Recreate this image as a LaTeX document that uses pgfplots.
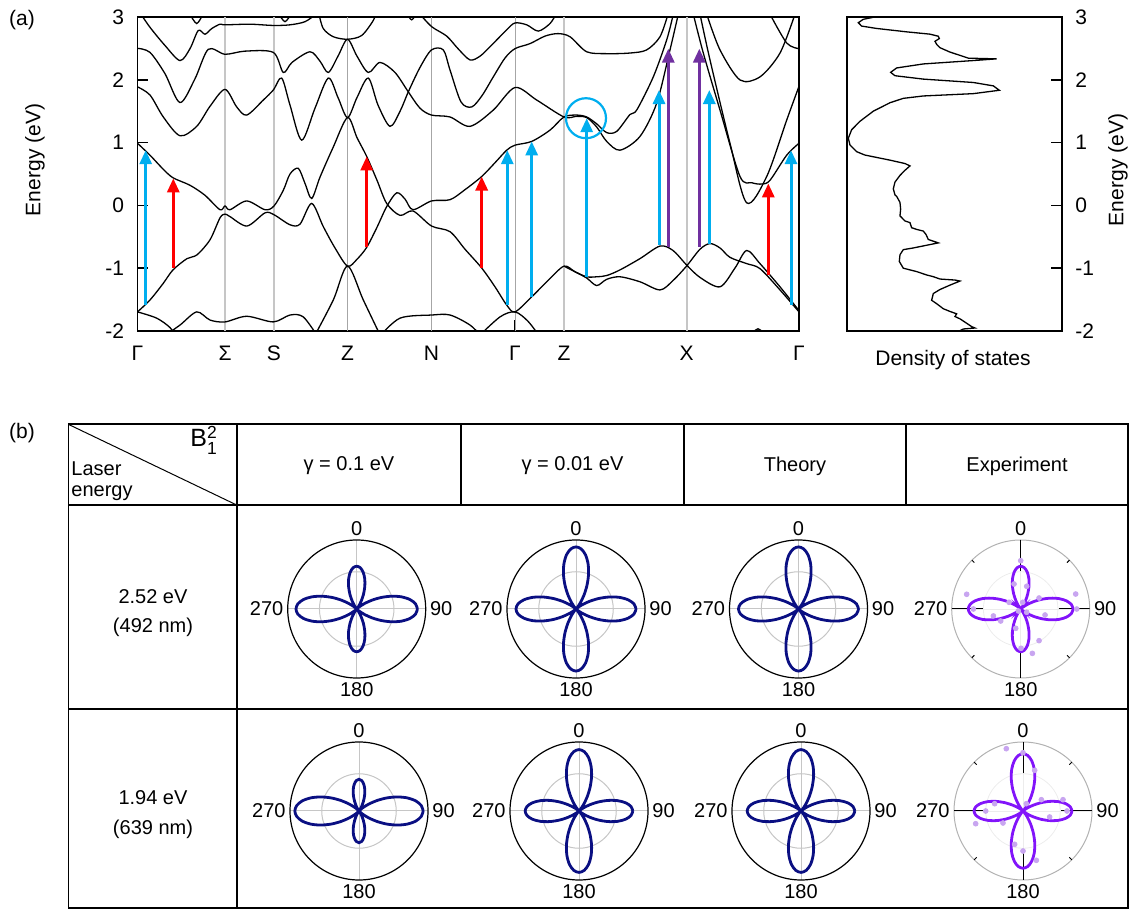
\documentclass[border=0pt]{standalone}
\usepackage{pgfplots}
\pgfplotsset{compat=1.18}
\usepackage{pgfplotstable}
\usepgfplotslibrary{polar}
\usetikzlibrary{arrows.meta}
\usepackage{amsmath}
\usepackage{fontspec}
\setmainfont{Liberation Sans}
\definecolor{navyb}{RGB}{10,15,130}
\definecolor{expv}{RGB}{130,20,250}
\definecolor{expdot}{RGB}{200,165,240}
\definecolor{arrb}{RGB}{0,174,239}
\definecolor{arrr}{RGB}{255,0,0}
\definecolor{arrp}{RGB}{112,48,160}

\pgfplotstableread[row sep=\\]{phi r\\0 0.880\\5 0.856\\10 0.785\\15 0.677\\20 0.542\\25 0.397\\30 0.257\\35 0.137\\40 0.051\\45 0.006\\50 0.006\\55 0.048\\60 0.127\\65 0.230\\70 0.343\\75 0.451\\80 0.541\\85 0.600\\90 0.620\\95 0.600\\100 0.541\\105 0.451\\110 0.343\\115 0.230\\120 0.127\\125 0.048\\130 0.006\\135 0.006\\140 0.051\\145 0.137\\150 0.257\\155 0.397\\160 0.542\\165 0.677\\170 0.785\\175 0.856\\180 0.880\\185 0.856\\190 0.785\\195 0.677\\200 0.542\\205 0.397\\210 0.257\\215 0.137\\220 0.051\\225 0.006\\230 0.006\\235 0.048\\240 0.127\\245 0.230\\250 0.343\\255 0.451\\260 0.541\\265 0.600\\270 0.620\\275 0.600\\280 0.541\\285 0.451\\290 0.343\\295 0.230\\300 0.127\\305 0.048\\310 0.006\\315 0.006\\320 0.051\\325 0.137\\330 0.257\\335 0.397\\340 0.542\\345 0.677\\350 0.785\\355 0.856\\360 0.880\\}\shapeA

\pgfplotstableread[row sep=\\]{phi r\\0 0.870\\5 0.844\\10 0.767\\15 0.651\\20 0.508\\25 0.356\\30 0.214\\35 0.098\\40 0.024\\45 0.000\\50 0.029\\55 0.109\\60 0.229\\65 0.375\\70 0.531\\75 0.677\\80 0.796\\85 0.873\\90 0.900\\95 0.873\\100 0.796\\105 0.677\\110 0.531\\115 0.375\\120 0.229\\125 0.109\\130 0.029\\135 0.000\\140 0.024\\145 0.098\\150 0.214\\155 0.356\\160 0.508\\165 0.651\\170 0.767\\175 0.844\\180 0.870\\185 0.844\\190 0.767\\195 0.651\\200 0.508\\205 0.356\\210 0.214\\215 0.098\\220 0.024\\225 0.000\\230 0.029\\235 0.109\\240 0.229\\245 0.375\\250 0.531\\255 0.677\\260 0.796\\265 0.873\\270 0.900\\275 0.873\\280 0.796\\285 0.677\\290 0.531\\295 0.375\\300 0.229\\305 0.109\\310 0.029\\315 0.000\\320 0.024\\325 0.098\\330 0.214\\335 0.356\\340 0.508\\345 0.651\\350 0.767\\355 0.844\\360 0.870\\}\shapeB

\pgfplotstableread[row sep=\\]{phi r\\0 0.930\\5 0.906\\10 0.837\\15 0.730\\20 0.596\\25 0.450\\30 0.307\\35 0.180\\40 0.082\\45 0.021\\50 0.000\\55 0.019\\60 0.072\\65 0.148\\70 0.236\\75 0.323\\80 0.395\\85 0.443\\90 0.460\\95 0.443\\100 0.395\\105 0.323\\110 0.236\\115 0.148\\120 0.072\\125 0.019\\130 0.000\\135 0.021\\140 0.082\\145 0.180\\150 0.307\\155 0.450\\160 0.596\\165 0.730\\170 0.837\\175 0.906\\180 0.930\\185 0.906\\190 0.837\\195 0.730\\200 0.596\\205 0.450\\210 0.307\\215 0.180\\220 0.082\\225 0.021\\230 0.000\\235 0.019\\240 0.072\\245 0.148\\250 0.236\\255 0.323\\260 0.395\\265 0.443\\270 0.460\\275 0.443\\280 0.395\\285 0.323\\290 0.236\\295 0.148\\300 0.072\\305 0.019\\310 0.000\\315 0.021\\320 0.082\\325 0.180\\330 0.307\\335 0.450\\340 0.596\\345 0.730\\350 0.837\\355 0.906\\360 0.930\\}\shapeC

\pgfplotstableread[row sep=\\]{phi r\\0 0.780\\5 0.756\\10 0.686\\15 0.579\\20 0.448\\25 0.310\\30 0.182\\35 0.080\\40 0.017\\45 0.001\\50 0.036\\55 0.117\\60 0.237\\65 0.381\\70 0.533\\75 0.674\\80 0.789\\85 0.864\\90 0.890\\95 0.864\\100 0.789\\105 0.674\\110 0.533\\115 0.381\\120 0.237\\125 0.117\\130 0.036\\135 0.001\\140 0.017\\145 0.080\\150 0.182\\155 0.310\\160 0.448\\165 0.579\\170 0.686\\175 0.756\\180 0.780\\185 0.756\\190 0.686\\195 0.579\\200 0.448\\205 0.310\\210 0.182\\215 0.080\\220 0.017\\225 0.001\\230 0.036\\235 0.117\\240 0.237\\245 0.381\\250 0.533\\255 0.674\\260 0.789\\265 0.864\\270 0.890\\275 0.864\\280 0.789\\285 0.674\\290 0.533\\295 0.381\\300 0.237\\305 0.117\\310 0.036\\315 0.001\\320 0.017\\325 0.080\\330 0.182\\335 0.310\\340 0.448\\345 0.579\\350 0.686\\355 0.756\\360 0.780\\}\shapeD

\pgfplotstableread[row sep=\\]{phi r\\0 0.760\\5 0.738\\10 0.675\\15 0.579\\20 0.459\\25 0.331\\30 0.209\\35 0.106\\40 0.035\\45 0.002\\50 0.010\\55 0.058\\60 0.139\\65 0.241\\70 0.352\\75 0.457\\80 0.544\\85 0.600\\90 0.620\\95 0.600\\100 0.544\\105 0.457\\110 0.352\\115 0.241\\120 0.139\\125 0.058\\130 0.010\\135 0.002\\140 0.035\\145 0.106\\150 0.209\\155 0.331\\160 0.459\\165 0.579\\170 0.675\\175 0.738\\180 0.760\\185 0.738\\190 0.675\\195 0.579\\200 0.459\\205 0.331\\210 0.209\\215 0.106\\220 0.035\\225 0.002\\230 0.010\\235 0.058\\240 0.139\\245 0.241\\250 0.352\\255 0.457\\260 0.544\\265 0.600\\270 0.620\\275 0.600\\280 0.544\\285 0.457\\290 0.352\\295 0.241\\300 0.139\\305 0.058\\310 0.010\\315 0.002\\320 0.035\\325 0.106\\330 0.209\\335 0.331\\340 0.459\\345 0.579\\350 0.675\\355 0.738\\360 0.760\\}\shapeE

\pgfplotstableread[row sep=\\]{phi r\\0 0.710\\5 0.688\\10 0.624\\15 0.526\\20 0.406\\25 0.280\\30 0.163\\35 0.071\\40 0.014\\45 0.001\\50 0.035\\55 0.112\\60 0.223\\65 0.357\\70 0.498\\75 0.630\\80 0.736\\85 0.806\\90 0.830\\95 0.806\\100 0.736\\105 0.630\\110 0.498\\115 0.357\\120 0.223\\125 0.112\\130 0.035\\135 0.001\\140 0.014\\145 0.071\\150 0.163\\155 0.280\\160 0.406\\165 0.526\\170 0.624\\175 0.688\\180 0.710\\185 0.688\\190 0.624\\195 0.526\\200 0.406\\205 0.280\\210 0.163\\215 0.071\\220 0.014\\225 0.001\\230 0.035\\235 0.112\\240 0.223\\245 0.357\\250 0.498\\255 0.630\\260 0.736\\265 0.806\\270 0.830\\275 0.806\\280 0.736\\285 0.630\\290 0.498\\295 0.357\\300 0.223\\305 0.112\\310 0.035\\315 0.001\\320 0.014\\325 0.071\\330 0.163\\335 0.280\\340 0.406\\345 0.526\\350 0.624\\355 0.688\\360 0.710\\}\shapeF

\pgfplotstableread[row sep=\\]{d E\\100 3.000\\70 2.968\\55 2.914\\65 2.860\\110 2.822\\200 2.768\\270 2.731\\295 2.698\\298 2.661\\285 2.617\\290 2.569\\300 2.515\\330 2.445\\370 2.375\\385 2.348\\470 2.337\\400 2.310\\250 2.256\\170 2.192\\152 2.122\\165 2.068\\250 2.014\\400 1.960\\460 1.906\\478 1.836\\400 1.782\\250 1.745\\190 1.707\\150 1.637\\100 1.502\\60 1.341\\35 1.206\\25 1.071\\30 0.963\\50 0.856\\75 0.802\\150 0.721\\195 0.667\\210 0.629\\195 0.559\\180 0.478\\165 0.371\\160 0.263\\165 0.166\\170 0.144\\180 0.047\\182 -0.060\\180 -0.168\\195 -0.249\\210 -0.276\\215 -0.357\\230 -0.384\\250 -0.411\\258 -0.464\\265 -0.545\\295 -0.599\\270 -0.626\\220 -0.680\\190 -0.707\\180 -0.788\\178 -0.896\\190 -1.003\\230 -1.057\\260 -1.111\\280 -1.138\\300 -1.176\\345 -1.192\\360 -1.208\\330 -1.273\\300 -1.343\\280 -1.407\\275 -1.515\\290 -1.569\\310 -1.650\\330 -1.693\\350 -1.731\\345 -1.774\\360 -1.811\\380 -1.881\\395 -1.935\\405 -1.957\\370 -1.973\\360 -2.000\\}\dos

\pgfplotsset{
  mpolar/.style={
    scale only axis, width=69pt, height=69pt, anchor=center,
    ymin=0, ymax=1, xtick={0,90,180,270}, xticklabels={90,0,270,180},
    ytick={0.54}, yticklabels={}, xmajorgrids, ymajorgrids,
    major grid style={gray!45, line width=0.5pt},
    axis line style={black, line width=0.6pt},
    y axis line style={draw=none},
    xtick style={draw=none}, ytick style={draw=none},
    xticklabel style={font=\fontsize{10}{12}\selectfont, inner sep=2pt},
  },
  epolar/.style={
    scale only axis, width=69pt, height=69pt, anchor=center,
    ymin=0, ymax=1, xtick={0,90,180,270}, xticklabels={90,0,270,180},
    ytick={0.54}, yticklabels={}, ymajorgrids,
    major grid style={gray!15, line width=0.4pt},
    axis line style={gray!60, line width=0.5pt},
    y axis line style={draw=none},
    xtick style={draw=none}, ytick style={draw=none},
    xticklabel style={font=\fontsize{10}{12}\selectfont, inner sep=2pt},
  },
  etick/.style={black, line width=0.5pt},
  bandline/.style={black, line width=0.65pt, smooth},
  arrow/.style={line width=1.5pt, -{Triangle[width=6pt,length=7pt]}},
}
\newcommand{\expticks}{%
  \addplot[etick] coordinates {(0,0.55) (0,1)};
  \addplot[etick] coordinates {(90,0.55) (90,1)};
  \addplot[etick] coordinates {(180,0.55) (180,1)};
  \addplot[etick] coordinates {(270,0.55) (270,1)};
  \addplot[etick] coordinates {(45,0.95) (45,1)};
  \addplot[etick] coordinates {(135,0.95) (135,1)};
  \addplot[etick] coordinates {(225,0.95) (225,1)};
  \addplot[etick] coordinates {(315,0.95) (315,1)};
}

\begin{document}
\begin{tikzpicture}
\path[use as bounding box] (0,0) rectangle (568pt,455pt);
\fontsize{10.5}{12.6}\selectfont

% ---------- panel (a): band structure ----------
\begin{axis}[
  at={(68.75pt,289.65pt)}, anchor=south west,
  scale only axis, width=330.75pt, height=156.7pt,
  xmin=137.5, xmax=799, ymin=-2, ymax=3,
  xtick={137.5,225,274,347.5,431.5,515,564,686.5,799},
  xticklabels={Γ,Σ,S,Z,N,Γ,Z,X,Γ},
  ytick={-2,-1,0,1,2,3},
  tick align=inside, xtick pos=bottom, ytick pos=left,
  major tick length=5.5pt,
  tick style={black, line width=0.8pt},
  axis line style={line width=0.9pt},
  /pgf/number format/assume math mode=true,
  ticklabel style={font=\fontsize{10.5}{12.6}\selectfont},
  yticklabel style={xshift=-3pt},
  xticklabel style={yshift=-4pt},
  clip=true,
]
\addplot[gray!45, line width=1pt] coordinates {(225,-2) (225,3)};
\addplot[gray!45, line width=1pt] coordinates {(274,-2) (274,3)};
\addplot[gray!70, line width=0.5pt] coordinates {(347.5,-2) (347.5,3)};
\addplot[gray!70, line width=0.5pt] coordinates {(431.5,-2) (431.5,3)};
\addplot[gray!70, line width=0.5pt] coordinates {(515,-2) (515,3)};
\addplot[gray!45, line width=1pt] coordinates {(564,-2) (564,3)};
\addplot[gray!45, line width=1pt] coordinates {(686.5,-2) (686.5,3)};

% valence / conduction near gap
\addplot[bandline] coordinates {(137.5,-1.70)(150,-1.51)(163,-1.25)(173,-1.03)(187,-0.85)(197,-0.79)(210,-0.55)(220,-0.20)(225,-0.14)(230,-0.18)(247,-0.33)(265,-0.12)(274,-0.15)(290,-0.31)(300,-0.30)(311.7,0.03)(323.3,-0.34)(335,-0.68)(347.5,-0.97)(357,-0.86)(366.7,-0.67)(377,-0.35)(386.7,-0.02)(396.7,0.20)(405,0.10)(413,-0.07)(431.5,0.07)(450,0.09)(465,0.25)(481.7,0.46)(495,0.68)(506.7,0.88)(515,0.96)(531.7,1.02)(550,1.20)(564,1.41)(576.7,1.44)(586.7,1.41)(596.7,1.30)(606.7,1.16)(616.7,1.18)(630,1.45)(636.7,1.52)(653.3,2.05)(666.7,2.64)(673.3,3.05)};
\addplot[bandline] coordinates {(137.5,0.99)(150,0.80)(163,0.58)(173,0.44)(190,0.32)(205,0.16)(220,-0.07)(225,-0.01)(230,-0.07)(246.7,0.07)(265,-0.07)(274,-0.01)(283.3,0.24)(290,0.50)(298.3,0.59)(305,0.35)(311.7,0.11)(320,0.45)(333,0.92)(347.5,1.40)(357,1.08)(366.7,0.78)(377,0.40)(386.7,0.03)(400,-0.16)(413,-0.09)(431.5,-0.33)(450,-0.42)(465,-0.70)(481.7,-1.00)(495,-1.30)(506.7,-1.59)(515,-1.70)(531.7,-1.46)(548,-1.2)(564,-0.97)(575,-1.06)(586.7,-1.14)(596.7,-1.14)(606.7,-1.12)(620,-1.03)(640,-0.85)(660,-0.65)(673,-0.72)(686.5,-0.95)(700,-1.15)(720,-1.30)(735,-1.0)(746.7,-0.72)(760,-0.93)(780,-1.30)(799,-1.68)};
\addplot[bandline] coordinates {(564,-0.97)(575,-1.06)(586.7,-1.16)(596.7,-1.28)(606.7,-1.18)(620,-1.14)(640,-1.22)(660,-1.35)(673,-1.2)(686.5,-0.97)(700,-0.70)(710,-0.61)(720,-0.68)(730,-0.83)(746.7,-0.93)(760,-1.01)(780,-1.35)(799,-1.70)};
% lower lines
\addplot[bandline] coordinates {(314,-2.1)(333.3,-1.51)(347.5,-0.97)(363.3,-1.51)(381,-2.1)};
\addplot[bandline] coordinates {(137.5,-1.70)(156.7,-1.80)(170,-1.95)(176,-2.1)};
\addplot[bandline] coordinates {(163,-2.1)(180,-1.91)(196.7,-1.70)(210,-1.83)(225,-1.86)(246.7,-1.77)(273.3,-1.86)(290,-1.75)(303.3,-1.78)(318,-2.1)};
\addplot[bandline] coordinates {(379,-2.1)(400,-1.80)(431.7,-1.75)(450,-1.75)(470,-1.91)(482,-2.1)};
\addplot[bandline] coordinates {(478,-2.1)(500,-1.78)(515,-1.70)(528,-1.85)(540,-2.1)};
\addplot[bandline] coordinates {(749,-2.1)(758,-1.97)(767,-2.1)};
% upper lines
\addplot[bandline] coordinates {(137.5,1.89)(150,1.76)(163.3,1.41)(180,1.11)(196.7,1.26)(210,1.58)(225,1.85)(236.7,1.57)(246.7,1.44)(263.3,1.68)(273.3,1.84)(281.7,2.03)(290,1.6)(301.7,1.04)(315,1.55)(328.3,2.03)(338,1.72)(347.5,1.40)(357,1.72)(368.3,2.03)(378,1.6)(390,1.26)(400,1.5)(408.3,1.81)(420,2.2)(431.5,2.48)(443.3,2.48)(450,2.16)(461,1.65)(471.7,1.57)(482,1.75)(493.3,2.05)(505,2.35)(515,2.50)(530,2.58)(545,2.70)(558,2.74)(570,2.69)(586.7,2.45)(606.7,2.42)(630,2.43)(646.7,2.48)(660,2.69)(668,3.05)};
\addplot[bandline] coordinates {(137.5,2.505)(150,2.44)(165,2.1)(180,1.64)(195,2.02)(208.3,2.49)(225,2.41)(245,2.46)(273.3,2.44)(283.3,2.12)(292,2.28)(310,2.45)(320,2.30)(328.3,2.12)(338,2.38)(347.5,2.65)(357,2.38)(368.3,2.12)(380,2.28)(395,2.12)(408.3,1.81)(420,1.55)(431.5,1.44)(450,1.41)(470,1.26)(493.3,1.52)(515,1.88)(536.7,1.68)(564,1.41)(576.7,1.42)(586.7,1.40)(596.7,1.25)(606.7,1.02)(620,0.88)(640,1.10)(656.7,1.63)(670,2.48)(678.3,3.05)};
\addplot[bandline] coordinates {(141,3.05)(150,2.84)(165,2.55)(180,2.31)(190,2.50)(198.3,2.79)(205,2.73)(211.7,2.82)(220,2.89)(225,2.88)(250,2.89)(273.3,2.87)(290,2.88)(305,2.93)(316,3.05)};
\addplot[bandline] coordinates {(190,3.05)(196.7,2.90)(203,3.05)};
\addplot[bandline] coordinates {(279,3.05)(285,2.93)(291,3.05)};
\addplot[bandline] coordinates {(319,3.05)(323.3,2.82)(333.3,2.69)(347.5,2.65)(361.7,2.71)(373.3,2.95)(375,3.05)};
\addplot[bandline] coordinates {(407,3.05)(411.7,2.96)(416,3.05)};
\addplot[bandline] coordinates {(420,3.05)(431.7,2.85)(446.7,2.70)(458,2.50)(470,2.32)(480,2.38)(490,2.53)(506.7,2.80)(515,2.91)(526.7,2.88)(538.3,2.78)(550,2.90)(556,3.05)};
\addplot[bandline] coordinates {(693.3,3.05)(703.3,2.43)(720,1.52)(740,0.46)(752,0.36)(762,0.34)(770,0.40)(786.7,0.80)(799,0.99)};
\addplot[bandline] coordinates {(700,3.05)(710,2.32)(730,0.99)(746.7,0.04)(766.7,0.46)(786.7,1.36)(799,1.9)};
\addplot[bandline] coordinates {(706.7,3.05)(720,2.48)(740,2.0)(760,2.05)(780,2.43)(795,3.05)};
\addplot[bandline] coordinates {(770,3.05)(786.7,2.59)(799,2.5)};

% arrows
\addplot[arrow, arrb] coordinates {(145.7,-1.59) (145.7,0.88)};
\addplot[arrow, arrr] coordinates {(173.3,-1.0) (173.3,0.43)};
\addplot[arrow, arrr] coordinates {(366.7,-0.67) (366.7,0.78)};
\addplot[arrow, arrr] coordinates {(481.7,-1.0) (481.7,0.46)};
\addplot[arrow, arrb] coordinates {(507.3,-1.59) (507.3,0.88)};
\addplot[arrow, arrb] coordinates {(531.7,-1.46) (531.7,1.02)};
\addplot[arrow, arrb] coordinates {(586.7,-1.14) (586.7,1.39)};
\addplot[arrow, arrb] coordinates {(659,-0.63) (659,1.84)};
\addplot[arrow, arrp] coordinates {(668.3,-0.66) (668.3,2.50)};
\addplot[arrow, arrp] coordinates {(699.3,-0.66) (699.3,2.50)};
\addplot[arrow, arrb] coordinates {(709.3,-0.61) (709.3,1.84)};
\addplot[arrow, arrr] coordinates {(768.3,-1.11) (768.3,0.35)};
\addplot[arrow, arrb] coordinates {(791,-1.59) (791,0.88)};
\addplot[arrb, only marks, mark=o, mark size=10pt, mark options={line width=1.1pt}] coordinates {(586,1.39)};
\end{axis}

% ---------- DOS ----------
\begin{axis}[
  at={(423.65pt,289.65pt)}, anchor=south west,
  scale only axis, width=107.35pt, height=156.7pt,
  xmin=22, xmax=666, ymin=-2, ymax=3,
  xtick=\empty, ytick={-2,-1,0,1,2,3},
  tick align=inside, ytick pos=right, yticklabel pos=right,
  major tick length=5.5pt,
  tick style={black, line width=0.8pt},
  axis line style={line width=0.9pt},
  /pgf/number format/assume math mode=true,
  ticklabel style={font=\fontsize{10.5}{12.6}\selectfont},
  yticklabel style={xshift=3pt},
]
\addplot[black, line width=0.65pt] table[x=d, y=E] {\dos};
\end{axis}

\node[rotate=90] at (17.5pt,375pt) {Energy (eV)};
\node[rotate=90] at (559pt,370pt) {Energy (eV)};
\node at (476.5pt,275pt) {Density of states};
\node at (11pt,445pt) {(a)};
\node at (11pt,238.5pt) {(b)};

% ---------- panel (b): table ----------
\draw[line width=0.8pt] (34.15pt,1pt) rectangle (564pt,242.85pt);
\draw[line width=0.8pt] (118.35pt,1pt) -- (118.35pt,242.85pt);
\draw[line width=0.8pt] (230.5pt,202.5pt) -- (230.5pt,242.85pt);
\draw[line width=0.8pt] (342pt,202.5pt) -- (342pt,242.85pt);
\draw[line width=0.8pt] (453pt,202.5pt) -- (453pt,242.85pt);
\draw[line width=0.8pt] (34.15pt,202.5pt) -- (564pt,202.5pt);
\draw[line width=0.8pt] (34.15pt,100.5pt) -- (564pt,100.5pt);
\draw[line width=0.5pt] (34.15pt,242.85pt) -- (118.35pt,202.5pt);

\begingroup\fontsize{10}{12}\selectfont
\node[anchor=base west, inner sep=0pt] at (35.5pt,217.15pt) {Laser};
\node[anchor=base west, inner sep=0pt] at (35.5pt,206.65pt) {energy};
\node[anchor=base west, inner sep=0pt, font=\fontsize{12.5}{14}\selectfont] at (95pt,231.5pt) {B$^{\text{2}}_{\text{1}}$};
\node at (174.5pt,222pt) {γ = 0.1 eV};
\node at (286.25pt,222pt) {γ = 0.01 eV};
\node at (397.5pt,222pt) {Theory};
\node at (508.5pt,222pt) {Experiment};
\node at (76.5pt,156.5pt) {2.52 eV};
\node at (76.5pt,141.5pt) {(492 nm)};
\node at (76.5pt,56pt) {1.94 eV};
\node at (76.5pt,40.5pt) {(639 nm)};
\endgroup

% ---------- polar plots ----------
\begin{polaraxis}[mpolar, at={(178.35pt,150.5pt)}]
\addplot[navyb, line width=1.4pt, smooth] table[x=phi, y=r] {\shapeA};
\end{polaraxis}
\begin{polaraxis}[mpolar, at={(288pt,150.5pt)}]
\addplot[navyb, line width=1.4pt, smooth] table[x=phi, y=r] {\shapeB};
\end{polaraxis}
\begin{polaraxis}[mpolar, at={(399.25pt,150.5pt)}]
\addplot[navyb, line width=1.4pt, smooth] table[x=phi, y=r] {\shapeB};
\end{polaraxis}
\begin{polaraxis}[epolar, at={(510.35pt,150.5pt)}]
\expticks
\addplot[only marks, mark=*, mark size=1.2pt, expdot, data cs=cart] coordinates {(0,0.700)(-0.097,0.362)(0.087,0.329)(-0.783,0.213)(0.797,0.217)(0.266,0.159)(-0.686,0)(0.812,0)(-0.396,-0.101)(-0.290,-0.174)(-0.034,-0.029)(0.087,-0.048)(0.353,-0.087)(-0.072,-0.280)(0.266,-0.459)(0.169,-0.643)(-0.169,0.097)(0.029,0.097)(0.005,-0.570)};
\addplot[expv, line width=1.4pt, smooth] table[x=phi, y=r] {\shapeE};
\end{polaraxis}

\begin{polaraxis}[mpolar, at={(179.5pt,49.5pt)}]
\addplot[navyb, line width=1.4pt, smooth] table[x=phi, y=r] {\shapeC};
\end{polaraxis}
\begin{polaraxis}[mpolar, at={(289.5pt,49.5pt)}]
\addplot[navyb, line width=1.4pt, smooth] table[x=phi, y=r] {\shapeD};
\end{polaraxis}
\begin{polaraxis}[mpolar, at={(400.5pt,49.5pt)}]
\addplot[navyb, line width=1.4pt, smooth] table[x=phi, y=r] {\shapeD};
\end{polaraxis}
\begin{polaraxis}[epolar, at={(511.5pt,49.5pt)}]
\expticks
\addplot[only marks, mark=*, mark size=1.2pt, expdot, data cs=cart] coordinates {(-0.242,0.903)(0,0.845)(0.169,0.589)(0.048,0.106)(0.266,0.164)(0.580,0.164)(-0.541,0)(0.638,0)(0.386,-0.087)(-0.686,-0.184)(-0.290,-0.174)(-0.411,0.106)(-0.121,-0.483)(0,-0.580)(0.193,-0.715)};
\addplot[expv, line width=1.4pt, smooth] table[x=phi, y=r] {\shapeF};
\end{polaraxis}
\end{tikzpicture}
\end{document}
